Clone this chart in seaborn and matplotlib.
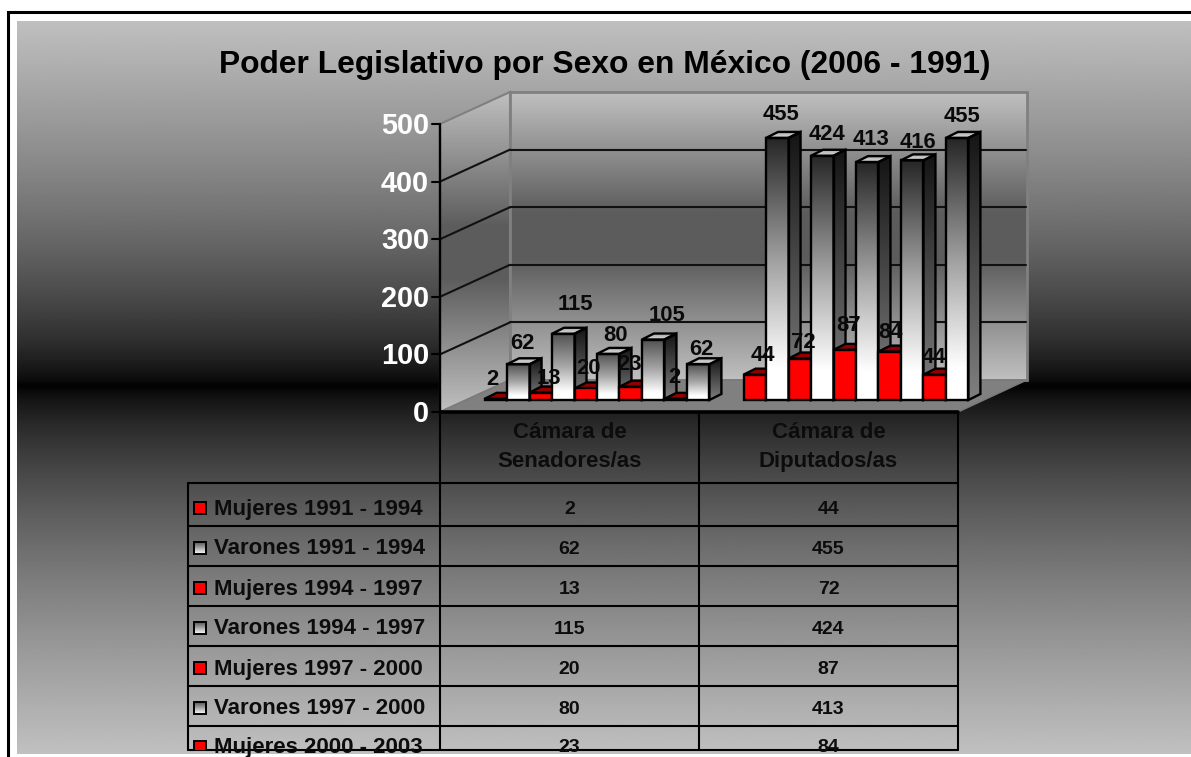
import numpy as np
import pandas as pd
import matplotlib
matplotlib.use('Agg')
import matplotlib.pyplot as plt
from matplotlib.colors import LinearSegmentedColormap
from matplotlib.patches import Polygon
import seaborn as sns

# values
camaras = ['Cámara de\nSenadores/as', 'Cámara de\nDiputados/as']
series = ['Mujeres 1991 - 1994', 'Varones 1991 - 1994',
          'Mujeres 1994 - 1997', 'Varones 1994 - 1997',
          'Mujeres 1997 - 2000', 'Varones 1997 - 2000',
          'Mujeres 2000 - 2003', 'Varones 2000 - 2003',
          'Mujeres 2003 - 2006', 'Varones 2003 - 2006']
senadores = [2, 62, 13, 115, 20, 80, 23, 105, 2, 62]
diputados = [44, 455, 72, 424, 87, 413, 84, 416, 44, 455]
yticks = [0, 100, 200, 300, 400, 500]

W, H = 1191, 757
PX_UNIT = 288 / 500  # pixels per unit on the value axis
BASE_Y = 400
DEPTH_X, DEPTH_Y = 12, 6
EDGE = 1.7

sns.set_style('white')
plt.rcParams['font.family'] = ['Liberation Sans', 'DejaVu Sans']

rows = []
for i, s in enumerate(series):
    rows.append({'camara': camaras[0], 'serie': s, 'valor': senadores[i]})
    rows.append({'camara': camaras[1], 'serie': s, 'valor': diputados[i]})
df = pd.DataFrame(rows)

fig = plt.figure(figsize=(W / 100, H / 100), dpi=100, facecolor='white')

# pixel axes for background, walls and table
bg = fig.add_axes([0, 0, 1, 1])
bg.set_xlim(0, W)
bg.set_ylim(H, 0)
bg.axis('off')
bg.set_autoscale_on(False)


def gradient(ax, verts, stops, zorder):
    # vertical gradient clipped to a polygon, stops go from top to bottom
    verts = np.array(verts, dtype=float)
    x0, x1 = verts[:, 0].min(), verts[:, 0].max()
    y0, y1 = verts[:, 1].min(), verts[:, 1].max()
    cmap = LinearSegmentedColormap.from_list('g', stops)
    grad = np.linspace(0, 1, 256).reshape(-1, 1)
    if ax.yaxis_inverted():
        ext = (x0, x1, y1, y0)
    else:
        ext = (x0, x1, y0, y1)
    im = ax.imshow(grad, cmap=cmap, aspect='auto', extent=ext, origin='upper',
                   vmin=0, vmax=1, zorder=zorder, interpolation='bilinear')
    poly = Polygon(verts, closed=True, transform=ax.transData)
    im.set_clip_path(poly)
    return im


# page background: grey, black around y=386, grey again
t = np.abs(np.linspace(21, 754, 512) - 386) / 368
page = (t ** 0.68 * 0.753).reshape(-1, 1)
bg.imshow(page, cmap='gray', vmin=0, vmax=1, aspect='auto',
          extent=(17, W, 754, 21), zorder=0)
bg.plot([8, 8, W], [H, 12, 12], color='black', lw=2.2, zorder=1,
        solid_joinstyle='miter', clip_on=False)

# walls and floor
FRONT_X, BACK_X, RIGHT_X = 440, 510, 958
front_y = BASE_Y + 12
back_y = BASE_Y - 20
span = 500 * PX_UNIT
wall_stops = [(0, '#c0c0c0'), (0.42, '#5c5c5c'), (0.58, '#5c5c5c'), (1, '#c0c0c0')]
wall = [(BACK_X, back_y - span), (RIGHT_X + 69, back_y - span),
        (RIGHT_X + 69, back_y), (BACK_X, back_y)]
gradient(bg, wall, wall_stops, 2)
bg.add_patch(Polygon(wall, closed=True, fill=False, ec='#808080', lw=2, zorder=3))
side = [(FRONT_X, front_y - span), (BACK_X, back_y - span),
        (BACK_X, back_y), (FRONT_X, front_y)]
gradient(bg, side, wall_stops, 2)
bg.add_patch(Polygon(side, closed=True, fill=False, ec='#808080', lw=1.5, zorder=3))
floor = [(FRONT_X, front_y), (RIGHT_X, front_y), (RIGHT_X + 69, back_y), (BACK_X, back_y)]
bg.add_patch(Polygon(floor, closed=True, fc='#808080', ec='#7a7a7a', lw=1, zorder=3))

# grid and value axis
for v in yticks:
    yf = front_y - v * PX_UNIT
    yb = back_y - v * PX_UNIT
    if 0 < v < 500:
        bg.plot([FRONT_X, BACK_X], [yf, yb], color='#111111', lw=1.5, zorder=4)
        bg.plot([BACK_X, RIGHT_X + 68], [yb, yb], color='#111111', lw=1.5, zorder=4)
    bg.plot([FRONT_X - 8, FRONT_X], [yf, yf], color='black', lw=1.5, zorder=4)
    bg.text(429, yf - 1, str(v), color='white', fontsize=20.8, fontweight='bold',
            ha='right', va='center_baseline', zorder=5)
bg.plot([FRONT_X, FRONT_X], [front_y - span, front_y], color='black', lw=1.7, zorder=4)

bg.text(605, 65, 'Poder Legislativo por Sexo en México (2006 - 1991)', fontsize=22.9,
        fontweight='bold', ha='center', va='center', color='black', zorder=5)

# data table below the chart
TABLE_LEFT, COL_MID, TABLE_BOTTOM = 188, 699, 750
row_lines = [483, 526, 566, 606, 646, 686, 726]
clip = Polygon([(150, 412), (1000, 412), (1000, TABLE_BOTTOM), (150, TABLE_BOTTOM)],
               transform=bg.transData)
bg.plot([FRONT_X, RIGHT_X], [front_y, front_y], color='black', lw=2.6, zorder=6)
for x, y0 in [(TABLE_LEFT, row_lines[0]), (FRONT_X, front_y), (COL_MID, front_y), (RIGHT_X, front_y)]:
    bg.plot([x, x], [y0, TABLE_BOTTOM], color='black', lw=1.5, zorder=6)
for y in row_lines + [TABLE_BOTTOM]:
    bg.plot([TABLE_LEFT, RIGHT_X], [y, y], color='black', lw=1.5, zorder=6)
col_x = [(FRONT_X + COL_MID) / 2, (COL_MID + RIGHT_X) / 2]
for x, name in zip(col_x, camaras):
    bg.text(x, 447, name, fontsize=16, fontweight='bold', color='#0c0c0c', ha='center',
            va='center', linespacing=1.5, zorder=7)
for i, s in enumerate(series):
    if i >= len(row_lines):
        break
    yc = 508 + 40 * i - (1 if i == 6 else 0)
    txt = bg.text(214, yc + 1, s, fontsize=16, fontweight='bold', color='#0c0c0c',
                  ha='left', va='center', zorder=7)
    txt.set_clip_path(clip)
    for x, v in zip(col_x, (senadores[i], diputados[i])):
        t1 = bg.text(x, yc + 1, str(v), fontsize=14, fontweight='bold', color='#0c0c0c',
                     ha='center', va='center', zorder=7)
        t1.set_clip_path(clip)
    key = [(194, yc - 6), (206, yc - 6), (206, yc + 6), (194, yc + 6)]
    if s.startswith('Mujeres'):
        keyp = Polygon(key, closed=True, fc='red', ec='black', lw=1.4, zorder=7)
        bg.add_patch(keyp)
        keyp.set_clip_path(clip)
    else:
        gradient(bg, key, ['#555555', '#ffffff'], 7)
        bg.add_patch(Polygon(key, closed=True, fill=False, ec='black', lw=1.4, zorder=7))

# bars, the axes sits on the plane of the bar fronts
ax = fig.add_axes([467.5 / W, 1 - BASE_Y / H, 518 / W, span / H])
ax.patch.set_alpha(0)
palette = {s: ('red' if s.startswith('Mujeres') else 'white') for s in series}
sns.barplot(data=df, x='camara', y='valor', hue='serie', hue_order=series, order=camaras,
            palette=palette, width=0.868, saturation=1, edgecolor='black', linewidth=EDGE,
            legend=False, ax=ax)
ax.set_xlim(-0.5, 1.5)
ax.set_ylim(0, 500)
ax.set_autoscale_on(False)
ax.axis('off')

# label offsets from the bar top centre in pixels (x, up), as placed in the reference
label_dx = [-3, 4.5, 8, 12, 3, 7, -1, 14, -1, 3, 8, 4, 3.5, 5, 4, 3.5, 1, 6, -0.5, 5]
label_dy = [19, 21, 14.5, 29, 19.5, 18, 22, 24.5, 21, 15,
            19, 23, 16.5, 21, 24, 23, 19.6, 17.4, 16.7, 21]

bars = [p for p in ax.patches if p.get_height() > 0]
bars = sorted(bars, key=lambda p: p.get_x())
dx = DEPTH_X * 2 / 518
dy = DEPTH_Y / PX_UNIT
vals = senadores + diputados
for n, p in enumerate(bars):
    x0, w, h = p.get_x(), p.get_width(), p.get_height()
    z = 10 + n * 3
    is_red = p.get_facecolor()[1] < 0.5
    p.set_zorder(z + 1)
    p.set_clip_on(False)
    side_v = [(x0 + w, 0), (x0 + w + dx, dy), (x0 + w + dx, h + dy), (x0 + w, h)]
    top_v = [(x0, h), (x0 + dx, h + dy), (x0 + w + dx, h + dy), (x0 + w, h)]
    if is_red:
        ax.add_patch(Polygon(side_v, closed=True, fc='#800000', ec='black', lw=EDGE, zorder=z, clip_on=False))
        ax.add_patch(Polygon(top_v, closed=True, fc='#900000', ec='black', lw=EDGE, zorder=z, clip_on=False))
    else:
        front_v = [(x0, 0), (x0 + w, 0), (x0 + w, h), (x0, h)]
        p.set_facecolor('none')
        top_col = '#505050' if h < 200 else '#262626'
        gradient(ax, front_v, [(0, top_col), (0.5, '#a8a8a8'), (0.88, '#ffffff'), (1, '#ffffff')], z)
        gradient(ax, side_v, ['#141414', '#808080'], z)
        gradient(ax, top_v, ['#aaaaaa', '#e0e0e0'], z)
        ax.add_patch(Polygon(side_v, closed=True, fill=False, ec='black', lw=EDGE, zorder=z + 1, clip_on=False))
        ax.add_patch(Polygon(top_v, closed=True, fill=False, ec='black', lw=EDGE, zorder=z + 1, clip_on=False))
    ax.annotate(str(vals[n]), (x0 + w / 2, h), xytext=(label_dx[n] * 0.72, label_dy[n] * 0.72),
                textcoords='offset points', ha='center', va='center', fontsize=15.8,
                fontweight='bold', color='#0a0a0a', zorder=200, annotation_clip=False)

plt.savefig('out.png', dpi=100)
